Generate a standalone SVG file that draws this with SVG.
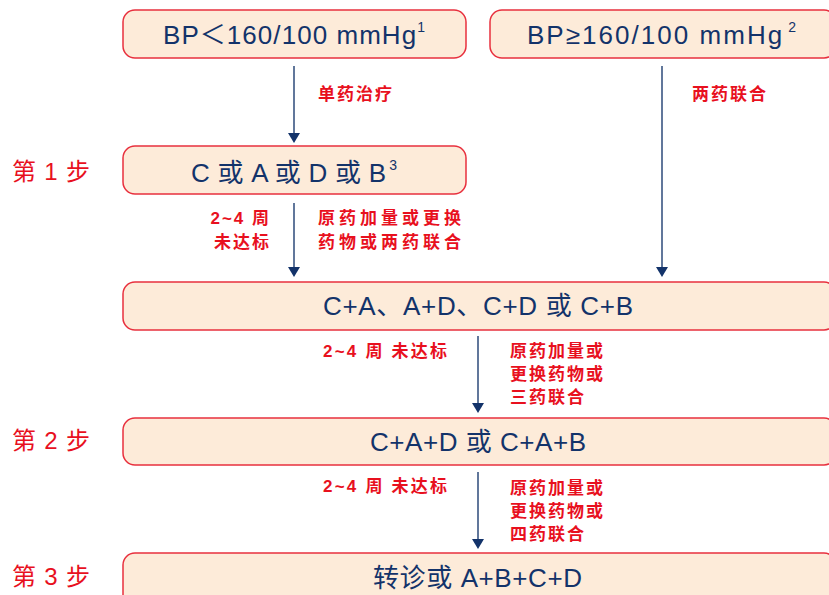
<svg xmlns="http://www.w3.org/2000/svg" width="829" height="595" viewBox="0 0 829 595">
<style>
.box{fill:#fdebd9;stroke:#e8303e;stroke-width:1.5}
.main{font-family:"Liberation Sans","Noto Sans CJK SC",sans-serif;font-size:26px;fill:#13336a}
.step{font-family:"Liberation Sans","Noto Sans CJK SC",sans-serif;font-size:24px;fill:#e8101e}
.lbl{font-family:"Liberation Sans","Noto Sans CJK SC",sans-serif;font-size:17px;font-weight:bold;fill:#e8101e}
.ln{stroke:#2d4a7a;stroke-width:1.5;fill:none}
.hd{fill:#13336a}
</style>
<rect width="829" height="595" fill="#ffffff"/>
<g id="n1"><rect class="box" x="123" y="10" width="343" height="48" rx="12"/><text class="main" x="163" y="44" textLength="262" lengthAdjust="spacing">BP＜160/100 mmHg<tspan font-size="14" dy="-12">1</tspan></text></g>
<g id="n2"><rect class="box" x="490" y="10" width="346" height="48" rx="12"/><text class="main" x="527" y="44" textLength="269" lengthAdjust="spacing">BP≥160/100 mmHg<tspan font-size="14" dy="-12" dx="4">2</tspan></text></g>
<g id="n3"><rect class="box" x="123" y="146" width="343" height="48" rx="12"/><text class="main" x="191" y="182" textLength="206" lengthAdjust="spacing">C 或 A 或 D 或 B<tspan font-size="14" dy="-12" dx="3">3</tspan></text></g>
<g id="n4"><rect class="box" x="123" y="282" width="713" height="48" rx="12"/><text class="main" x="323" y="315" textLength="310" lengthAdjust="spacing">C+A、A+D、C+D 或 C+B</text></g>
<g id="n5"><rect class="box" x="123" y="418" width="713" height="47" rx="12"/><text class="main" x="370" y="451" textLength="216" lengthAdjust="spacing">C+A+D 或 C+A+B</text></g>
<g id="n6"><rect class="box" x="123" y="553" width="713" height="60" rx="12"/><text class="main" x="373" y="587" textLength="209" lengthAdjust="spacing">转诊或 A+B+C+D</text></g>
<g id="steps">
<text class="step" x="12" y="180" textLength="78" lengthAdjust="spacing">第 1 步</text>
<text class="step" x="12" y="449" textLength="78" lengthAdjust="spacing">第 2 步</text>
<text class="step" x="12" y="585" textLength="78" lengthAdjust="spacing">第 3 步</text>
</g>
<g id="connectors">
<line class="ln" x1="294" y1="66" x2="294" y2="135"/><polygon class="hd" points="288,133 300,133 294,143"/>
<line class="ln" x1="662" y1="66" x2="662" y2="269"/><polygon class="hd" points="656,267 668,267 662,277"/>
<line class="ln" x1="294" y1="203" x2="294" y2="269"/><polygon class="hd" points="288,267 300,267 294,277"/>
<line class="ln" x1="478" y1="336" x2="478" y2="405"/><polygon class="hd" points="472,403 484,403 478,413"/>
<line class="ln" x1="478" y1="472" x2="478" y2="541"/><polygon class="hd" points="472,539 484,539 478,549"/>
</g>
<g id="labels">
<text class="lbl" x="318" y="100" letter-spacing="2">单药治疗</text>
<text class="lbl" x="692" y="100" letter-spacing="2">两药联合</text>
<text class="lbl" x="271" y="224" text-anchor="end" letter-spacing="2">2~4 周</text>
<text class="lbl" x="271" y="248" text-anchor="end" letter-spacing="2">未达标</text>
<text class="lbl" x="318" y="224" letter-spacing="4">原药加量或更换</text>
<text class="lbl" x="318" y="248" letter-spacing="4">药物或两药联合</text>
<text class="lbl" x="323" y="357" textLength="124" lengthAdjust="spacing">2~4 周 未达标</text>
<text class="lbl" x="510" y="357" letter-spacing="2">原药加量或</text>
<text class="lbl" x="510" y="380" letter-spacing="2">更换药物或</text>
<text class="lbl" x="510" y="403" letter-spacing="2">三药联合</text>
<text class="lbl" x="323" y="492" textLength="124" lengthAdjust="spacing">2~4 周 未达标</text>
<text class="lbl" x="510" y="494" letter-spacing="2">原药加量或</text>
<text class="lbl" x="510" y="517" letter-spacing="2">更换药物或</text>
<text class="lbl" x="510" y="540" letter-spacing="2">四药联合</text>
</g>
</svg>
